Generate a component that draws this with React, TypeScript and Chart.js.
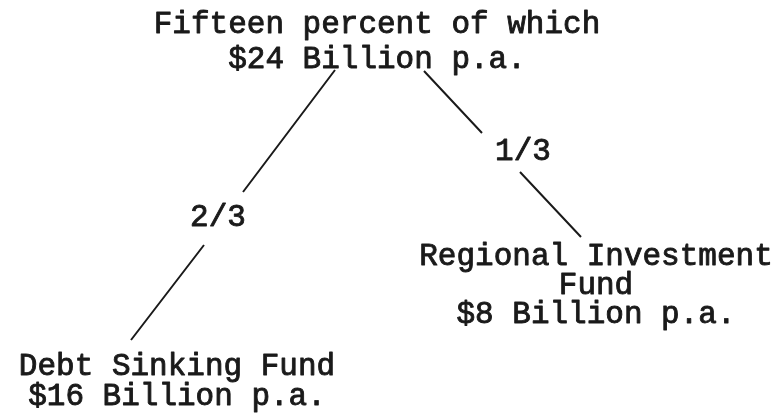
import React, { useEffect, useRef } from "react";
import { Chart, registerables } from "chart.js";

Chart.register(...registerables);

// Node texts (each node may have several lines)
const rootLines = ["Fifteen percent of which", "$24 Billion p.a."];
const leftLines = ["Debt Sinking Fund", "$16 Billion p.a."];
const rightLines = ["Regional Investment", "Fund", "$8 Billion p.a."];

// Node anchor positions (centre x, first-line y) in diagram units
const nodeCenterX = [377, 177, 596];
const nodeTopY = [25, 367, 257];
const nodeLineGap = [35, 30, 29];

// Branch labels
const branchLabels = ["2/3", "1/3"];
const branchLabelX = [218, 523];
const branchLabelY = [218, 152];

// Branch segments (start/end points, broken around the label)
const leftBranchX = [335, 243, NaN, 204, 131];
const leftBranchY = [70, 192, NaN, 245, 340];
const rightBranchX = [424, 482, NaN, 520, 581];
const rightBranchY = [71, 133, NaN, 172, 237];

const FONT = "31px 'Liberation Mono', 'DejaVu Sans Mono', monospace";
const INK = "#1a1a1a";

const toPoints = (xs: number[], ys: number[]) =>
  xs.map((x, i) => ({ x: isNaN(x) ? null : x, y: isNaN(ys[i]) ? null : ys[i] }));

export default function App() {
  const ref = useRef<HTMLCanvasElement | null>(null);

  useEffect(() => {
    document.body.style.margin = "0";
    const canvas = ref.current;
    if (!canvas) return;

    const textPlugin = {
      id: "treeText",
      afterDatasetsDraw(chart: any) {
        const { ctx, scales } = chart;
        const sx = scales.x;
        const sy = scales.y;
        ctx.save();
        ctx.fillStyle = INK;
        ctx.strokeStyle = INK;
        ctx.lineWidth = 0.9;
        ctx.lineJoin = "round";
        ctx.font = FONT;
        ctx.textAlign = "center";
        ctx.textBaseline = "middle";
        const draw = (t: string, x: number, y: number) => {
          const px = sx.getPixelForValue(x);
          const py = sy.getPixelForValue(y);
          ctx.fillText(t, px, py);
          ctx.strokeText(t, px, py);
        };
        const nodes = [rootLines, leftLines, rightLines];
        nodes.forEach((lines, n) => {
          lines.forEach((t, i) => draw(t, nodeCenterX[n], nodeTopY[n] + i * nodeLineGap[n]));
        });
        branchLabels.forEach((t, i) => draw(t, branchLabelX[i], branchLabelY[i]));
        ctx.restore();
      },
    };

    const chart = new Chart(canvas, {
      type: "line",
      data: {
        datasets: [
          {
            label: "2/3",
            data: toPoints(leftBranchX, leftBranchY) as any,
            borderColor: INK,
            borderWidth: 2,
            pointRadius: 0,
            spanGaps: false,
          },
          {
            label: "1/3",
            data: toPoints(rightBranchX, rightBranchY) as any,
            borderColor: INK,
            borderWidth: 2,
            pointRadius: 0,
            spanGaps: false,
          },
        ],
      },
      options: {
        responsive: false,
        animation: false,
        layout: { padding: 0 },
        plugins: { legend: { display: false }, tooltip: { enabled: false }, title: { display: false } },
        scales: {
          x: { type: "linear", min: 0, max: 771, display: false },
          y: { type: "linear", min: 0, max: 416, reverse: true, display: false },
        },
      },
      plugins: [textPlugin],
    });
    return () => chart.destroy();
  }, []);

  return (
    <div style={{ position: "fixed", left: 0, top: 0, width: 771, height: 416, background: "#fff" }}>
      <canvas ref={ref} width={771} height={416} />
    </div>
  );
}
